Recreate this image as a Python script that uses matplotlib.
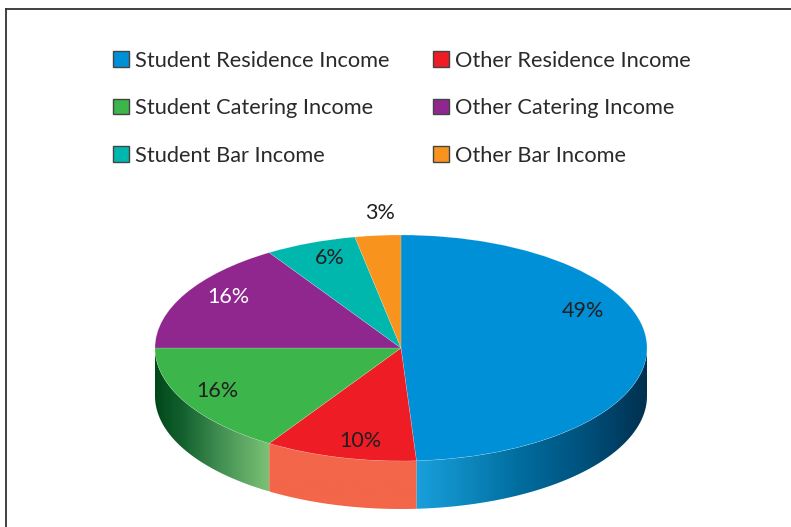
import numpy as np
import matplotlib
matplotlib.use("Agg")
import matplotlib.pyplot as plt
from matplotlib.colors import LinearSegmentedColormap
from matplotlib.patches import Patch, Polygon

categories = ["Student Residence Income", "Student Catering Income", "Student Bar Income",
              "Other Residence Income", "Other Catering Income", "Other Bar Income"]
pie_order = ["Student Residence Income", "Other Residence Income", "Student Catering Income",
             "Other Catering Income", "Student Bar Income", "Other Bar Income"]
values = [49, 10, 16, 16, 6, 3]
colors = ["#0090D7", "#EE1C25", "#3CB54A", "#90278E", "#00B7AE", "#F8941D"]
label_colors = ["#231F20", "#231F20", "#231F20", "#FFFFFF", "#231F20", "#231F20"]
label_px = [(583, 311), (360, 441), (217, 391), (228, 297), (330, 258), (380, 213)]

W, H = 791, 527
CX, CY, RX, RY, DEPTH = 401, 348, 246, 113, 48
FONT = "Lato"
TXT = "#2b2a2b"

fig = plt.figure(figsize=(W / 100, H / 100), dpi=100, facecolor="white")
ax = fig.add_axes([0, 0, 1, 1])
ax.pie(values, colors=colors, startangle=90, counterclock=False, radius=1,
       wedgeprops=dict(edgecolor="#ffffff60", linewidth=0.3), center=(0, 0))
ax.set_xlim(-CX / RX, (W - CX) / RX)
ax.set_ylim(-(H - CY) / RY, CY / RY)
ax.set_aspect("auto")
ax.axis("off")


def u(px, py):
    return (px - CX) / RX, (CY - py) / RY


d = DEPTH / RY
edges = np.cumsum([0] + values) / sum(values) * 2 * np.pi


def wall(i, stops):
    a = np.linspace(edges[i], edges[i + 1], 200)
    a = a[(a >= np.pi / 2) & (a <= 3 * np.pi / 2)]
    x, y = np.sin(a), np.cos(a)
    pts = np.r_[np.c_[x, y], np.c_[x[::-1], y[::-1] - d]]
    cmap = LinearSegmentedColormap.from_list("w", stops)
    poly = Polygon(pts, closed=True, fc="none", ec="none", transform=ax.transData)
    ax.add_patch(poly)
    im = ax.imshow(np.linspace(0, 1, 256)[None, :], cmap=cmap, aspect="auto", zorder=0.5,
                   extent=(x.min(), x.max(), (y - d).min(), y.max()))
    im.set_clip_path(poly)


ax.set_autoscale_on(False)
wall(0, [(0, "#19A0DC"), (0.18, "#0F8CC4"), (0.45, "#006D9E"), (0.75, "#004F7A"), (1, "#00304F")])
wall(1, ["#F3664A", "#F3664A"])
wall(2, [(0, "#00471A"), (0.25, "#14622F"), (0.55, "#3F8D50"), (1, "#7CC377")])
ax.set_xlim(-CX / RX, (W - CX) / RX)
ax.set_ylim(-(H - CY) / RY, CY / RY)

for v, c, p in zip(values, label_colors, label_px):
    ax.text(*u(*p), f"{v}%", color=c, fontsize=15.5, family=FONT, ha="center", va="center")

by_name = dict(zip(pie_order, colors))
handles = [Patch(facecolor=by_name[n], edgecolor="#444444", linewidth=1.0, label=n) for n in categories]
ax.legend(handles=handles, ncol=2, frameon=False, loc="upper left",
          bbox_to_anchor=(106.5 / W, 1 - 44.3 / H), prop=dict(family=FONT, size=15.7),
          labelcolor=TXT, handlelength=0.72, handleheight=0.72, handletextpad=0.28,
          labelspacing=1.26, columnspacing=2.0, borderpad=0.3, borderaxespad=0)

ax.plot([6 / W, 6 / W], [0, 1 - 9 / H], transform=ax.transAxes, color="#333333", lw=1.3, clip_on=False)
ax.plot([6 / W, 1], [1 - 9 / H, 1 - 9 / H], transform=ax.transAxes, color="#333333", lw=1.3, clip_on=False)
fig.savefig("out.png", dpi=100)
